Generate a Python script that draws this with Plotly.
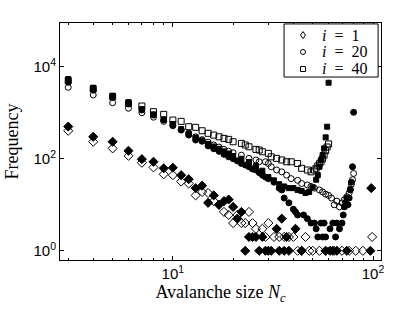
import plotly.graph_objects as go

# ---- data (avalanche size N_c, frequency) ----
# i = 1, open diamonds
n_i1_open = [3,4,5,6,7,8,9,10,11,12,13,14,15,16,17,18,19,20,21,22,23,24,25,26,28,29,30,32,34,36,38,40,42,44,46,48,50,54,58,64,70,76,82,89,99]
f_i1_open = [405,234,168,116,82,65,46,44,32,29,16,19,18,12,10,7,6,4,6,4,4,7,4,3,3,2,4,2,2,2,2,2,1,1,2,1,1,1,1,1,1,1,1,1,2]
# i = 1, filled diamonds
n_i1_fill = [3,4,5,6,7,8,9,10,11,12,13,14,15,16,17,18,19,20,21,22,23,24,25,26,27,28,29,30,31,33,34,35,36,37,38,41,44,58,61,63,66,74,97,98]
f_i1_fill = [500,300,234,149,98,86,62,64,44,36,23,26,11,16,10,12,13,9,5,7,1,2,2,2,1,2,1,1,1,3,1,5,1,2,1,3,1,1,1,1,1,1,1,23]
# i = 20, open circles
n_i20_open = [3,4,5,6,7,8,9,10,11,12,13,14,15,16,17,18,19,20,22,24,26,27,29,30,31,33,35,37,39,42,44,47,49,51,54,56,58,60,62,64,66,68,70,72,74,76,77,78,79,80]
f_i20_open = [3570,2430,1650,1250,1000,800,650,520,430,360,300,260,230,200,180,160,145,135,120,102,94,86,86,79,67,57,52,44,37,34,29,27,25,23,21,19,17,16,14,10,12,9,11,13,15,18,22,28,35,48]
# i = 20, filled circles
n_i20_fill = [3,4,5,6,7,8,9,10,11,12,13,14,15,16,17,18,19,20,21,22,23,24,25,26,27,28,29,30,32,34,35,36,38,40,41,42,45,47,49,51,52,53,55,56,57,58,60,61,63,65,66,68,70,71,72,73,74,75,76,77,78,79,80]
f_i20_fill = [4600,3100,2150,1550,1145,890,693,541,420,327,255,240,190,165,145,125,110,100,90,79,73,67,60,57,50,44,40,37,31,23,21,14,11,8,7,6,6,5,4,4,3,2,4,2,4,2,1,3,4,2,4,3,4,6,9,11,14,10,14,21,31,67,1020]
# i = 40, open squares
n_i40_open = [3,4,5,6,7,8,9,10,11,12,13,14,15,16,17,18,19,20,22,23,24,26,27,28,30,31,33,35,37,39,42,44,47,49,51,52,53,54,55,56,57,58,59,60]
f_i40_open = [5000,3300,2250,1600,1400,1054,922,693,650,497,482,406,357,327,300,277,264,234,216,199,182,160,155,142,131,110,102,94,86,86,79,62,57,52,57,62,70,78,86,100,120,150,180,210]
# i = 40, filled squares
n_i40_fill = [3,4,5,6,7,8,9,10,11,12,13,14,15,16,17,18,19,20,22,24,26,28,30,32,34,36,38,40,42,44,46,48,50,52,53,54,55,56,57,58,59,60]
f_i40_fill = [5400,3500,2350,1700,1200,920,720,570,440,350,290,250,210,185,165,145,130,115,100,85,70,55,40,34,28,25,23,23,21,20,18,19,24,35,44,67,94,120,168,292,497,4490]

legend_labels = ["<i>i</i>\u2002=\u20021", "<i>i</i>\u2002=\u200220", "<i>i</i>\u2002=\u200240"]
x_ticks = [10, 100]
x_ticktext = ["10<sup>1</sup>", "10<sup>2</sup>"]
y_ticks = [1, 100, 10000]
y_ticktext = ["10<sup>0</sup>", "10<sup>2</sup>", "10<sup>4</sup>"]
x_minor = [3,4,5,6,7,8,9,20,30,40,50,60,70,80,90]

fig = go.Figure()

def add(n, f, symbol, size, name):
    fig.add_trace(go.Scatter(
        x=n, y=f, mode="markers", name=name, showlegend=False,
        marker=dict(symbol=symbol, size=size, color="black",
                    line=dict(color="black", width=1)),
    ))

add(n_i1_open, f_i1_open, "diamond-open", 7, "i = 1")
add(n_i20_open, f_i20_open, "circle-open", 6, "i = 20")
add(n_i40_open, f_i40_open, "square-open", 6, "i = 40")
add(n_i1_fill, f_i1_fill, "diamond", 7, "i = 1 (filled)")
add(n_i20_fill, f_i20_fill, "circle", 6, "i = 20 (filled)")
add(n_i40_fill, f_i40_fill, "square", 5, "i = 40 (filled)")

axis_common = dict(
    type="log", showline=True, linecolor="black", linewidth=1, mirror="ticks",
    ticks="inside", ticklen=4, tickcolor="black", showgrid=False, zeroline=False,
    automargin=False,
    tickfont=dict(family="Liberation Sans, Arial", size=15, color="black"),
)

fig.update_xaxes(
    **axis_common,
    range=[0.436, 2.04],
    tickmode="array", tickvals=x_ticks, ticktext=x_ticktext,
    minor=dict(ticks="inside", ticklen=2, tickcolor="black", tickmode="array", tickvals=x_minor),
    title=dict(text="Avalanche size <i>N<sub>c</sub></i>",
               font=dict(family="Liberation Serif, Times New Roman", size=18, color="black"),
               standoff=4),
)
fig.update_yaxes(
    **axis_common,
    range=[-0.2, 4.95],
    tickmode="array", tickvals=y_ticks, ticktext=y_ticktext,
    title=dict(text="Frequency",
               font=dict(family="Liberation Serif, Times New Roman", size=18, color="black"),
               standoff=10),
)

# ---- compact legend box (matching the reference's tight legend) ----
leg_x0, leg_x1, leg_y0, leg_y1 = 0.698, 0.991, 0.772, 0.996
key_x, text_x = 0.757, 0.81
rows_y = [0.949, 0.878, 0.806]
shapes = [dict(type="rect", xref="paper", yref="paper", x0=leg_x0, x1=leg_x1, y0=leg_y0, y1=leg_y1,
               line=dict(color="black", width=1), fillcolor="white", layer="above")]
key_style = dict(xref="paper", yref="paper", xsizemode="pixel", ysizemode="pixel",
                 line=dict(color="black", width=1), fillcolor="rgba(0,0,0,0)", layer="above")
shapes.append(dict(type="path", xanchor=key_x, yanchor=rows_y[0],
                   path="M0,3.5 L2.5,0 L0,-3.5 L-2.5,0 Z", **key_style))
shapes.append(dict(type="circle", xanchor=key_x, yanchor=rows_y[1],
                   x0=-2.5, x1=2.5, y0=-2.5, y1=2.5, **key_style))
shapes.append(dict(type="rect", xanchor=key_x, yanchor=rows_y[2],
                   x0=-2.5, x1=2.5, y0=-2.5, y1=2.5, **key_style))
annotations = [dict(xref="paper", yref="paper", x=text_x, y=ry, text=lab, showarrow=False,
                    xanchor="left", yanchor="middle",
                    font=dict(family="Liberation Serif, Times New Roman", size=16, color="black"))
               for ry, lab in zip(rows_y, legend_labels)]

fig.update_layout(
    width=415, height=313,
    margin=dict(l=60, r=34, t=23, b=53),
    paper_bgcolor="white", plot_bgcolor="white",
    showlegend=False,
    shapes=shapes, annotations=annotations,
)

fig.write_html("out.html", post_script="document.body.style.margin='0';",
               config={"displayModeBar": False})
